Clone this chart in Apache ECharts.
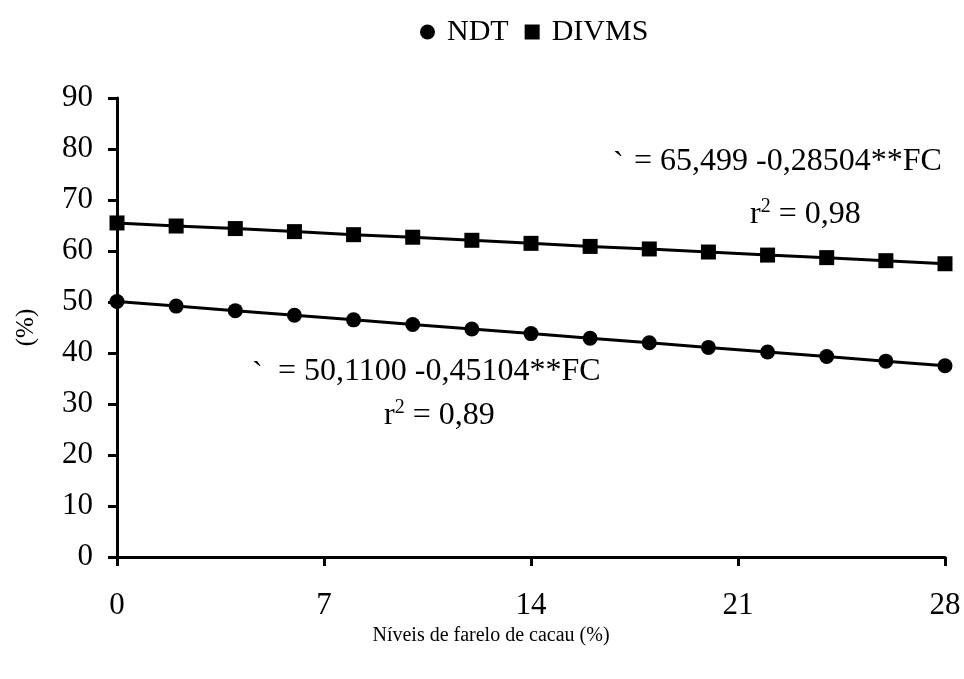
<!DOCTYPE html>
<html>
<head>
<meta charset="utf-8">
<script src="https://cdn.jsdelivr.net/npm/echarts@6/dist/echarts.min.js"></script>
<style>
  html, body { margin: 0; padding: 0; background: #fff; }
  #chart { width: 964px; height: 679px; }
</style>
</head>
<body>
<div id="chart"></div>
<script>
// Levels of cocoa meal in the diet (%)
const levels = [0, 2, 4, 6, 8, 10, 12, 14, 16, 18, 20, 22, 24, 26, 28];
// Total digestible nutrients (%)
const ndt = [50.1, 49.2, 48.3, 47.4, 46.5, 45.6, 44.7, 43.8, 42.9, 42.0, 41.1, 40.2, 39.3, 38.4, 37.5];
// In vitro dry matter digestibility (%)
const divms = [65.5, 64.9, 64.4, 63.8, 63.2, 62.7, 62.1, 61.5, 60.9, 60.4, 59.8, 59.2, 58.7, 58.1, 57.5];
const xTicks = [0, 7, 14, 21, 28];
const yTicks = [0, 10, 20, 30, 40, 50, 60, 70, 80, 90];

const FONT = '"Liberation Serif", "Times New Roman", serif';
const EQ = '32px ' + FONT;
const chart = echarts.init(document.getElementById('chart'));

const pair = arr => levels.map((x, i) => [x, arr[i]]);

// r² label built from rich text, with a raised small "2"
const r2 = (value) => ({
  text: '{t|r}{s|2}{t| = ' + value + '}',
  rich: {
    t: { font: EQ, fill: '#000', verticalAlign: 'bottom', lineHeight: 34 },
    s: { font: '20px ' + FONT, fill: '#000', verticalAlign: 'top', lineHeight: 34, padding: [0, 0, 14, 0] }
  }
});

chart.setOption({
  animation: false,
  backgroundColor: '#fff',
  textStyle: { fontFamily: FONT, color: '#000' },
  legend: {
    top: 12,
    left: 415,
    itemWidth: 15,
    itemHeight: 15,
    itemGap: 16,
    textStyle: { fontFamily: FONT, fontSize: 30, color: '#000', padding: [0, 0, 0, 7] },
    data: [
      { name: 'NDT', icon: 'circle' },
      { name: 'DIVMS', icon: 'rect' }
    ]
  },
  grid: { left: 117, right: 19, top: 98, bottom: 122, containLabel: false },
  xAxis: {
    type: 'value',
    min: xTicks[0],
    max: xTicks[xTicks.length - 1],
    interval: 7,
    name: 'Níveis de farelo de cacau (%)',
    nameLocation: 'middle',
    nameGap: 69,
    nameTextStyle: { fontFamily: FONT, fontSize: 20, color: '#000', padding: [0, 80, 0, 0] },
    axisLine: { lineStyle: { color: '#000', width: 3 } },
    axisTick: { show: true, inside: false, length: 9, lineStyle: { color: '#000', width: 3 } },
    axisLabel: { fontFamily: FONT, fontSize: 31, color: '#000', margin: 33 },
    splitLine: { show: false }
  },
  yAxis: {
    type: 'value',
    min: yTicks[0],
    max: yTicks[yTicks.length - 1],
    interval: 10,
    name: '(%)',
    nameLocation: 'middle',
    nameGap: 78,
    nameRotate: 90,
    nameTextStyle: { fontFamily: FONT, fontSize: 25, color: '#000' },
    axisLine: { show: true, lineStyle: { color: '#000', width: 3 } },
    axisTick: { show: true, inside: false, length: 9, lineStyle: { color: '#000', width: 3 } },
    axisLabel: { fontFamily: FONT, fontSize: 31, color: '#000', margin: 24 },
    splitLine: { show: false }
  },
  series: [
    {
      name: 'NDT',
      type: 'line',
      data: pair(ndt),
      symbol: 'circle',
      symbolSize: 15,
      itemStyle: { color: '#000' },
      lineStyle: { color: '#000', width: 3 },
      z: 3
    },
    {
      name: 'DIVMS',
      type: 'line',
      data: pair(divms),
      symbol: 'rect',
      symbolSize: 15,
      itemStyle: { color: '#000' },
      lineStyle: { color: '#000', width: 3 },
      z: 3
    }
  ],
  graphic: [
    {
      type: 'text', left: 613, top: 149,
      style: { text: '`', font: EQ, fill: '#000' }
    },
    {
      type: 'text', left: 634, top: 146,
      style: { text: '= 65,499 -0,28504**FC', font: EQ, fill: '#000' }
    },
    {
      type: 'text', left: 750, top: 197,
      style: r2('0,98')
    },
    {
      type: 'text', left: 252, top: 359,
      style: { text: '`', font: EQ, fill: '#000' }
    },
    {
      type: 'text', left: 278, top: 356,
      style: { text: '= 50,1100 -0,45104**FC', font: EQ, fill: '#000' }
    },
    {
      type: 'text', left: 384, top: 398,
      style: r2('0,89')
    }
  ]
});
</script>
</body>
</html>
